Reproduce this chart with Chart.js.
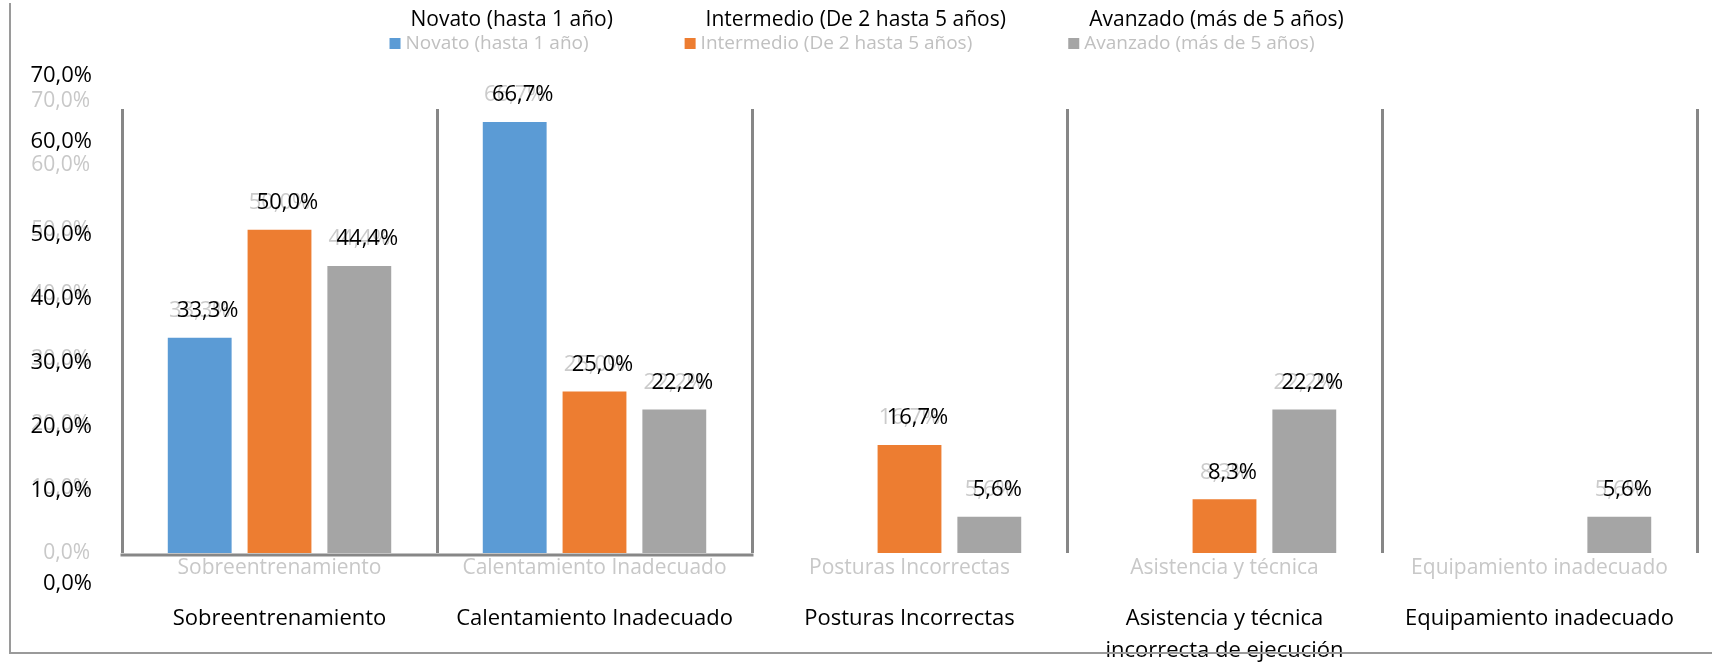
<!DOCTYPE html>
<html lang="es">
<head>
<meta charset="utf-8">
<title>Lesiones por nivel de experiencia</title>
<script src="https://cdn.jsdelivr.net/npm/chart.js@4"></script>
<style>
  html, body { margin: 0; padding: 0; background: #fff; }
  #marco { position: relative; width: 1712px; height: 665px; }
  #grafico { position: absolute; left: 0; top: 0; }
  .linea { position: absolute; background: #9a9a9a; }
</style>
</head>
<body>
<div id="marco">
  <canvas id="grafico" width="1712" height="665"></canvas>
  <div class="linea" style="left:9px; top:3px; width:2px; height:651px"></div>
  <div class="linea" style="left:9px; top:652px; width:1703px; height:2px"></div>
</div>
<script>
// datos
const categorias = [
  "Sobreentrenamiento",
  "Calentamiento Inadecuado",
  "Posturas Incorrectas",
  "Asistencia y técnica",
  "Equipamiento inadecuado",
];
const categoriasNegro = [
  "Sobreentrenamiento",
  "Calentamiento Inadecuado",
  "Posturas Incorrectas",
  ["Asistencia y técnica", "incorrecta de ejecución"],
  "Equipamiento inadecuado",
];
const nombresSeries = [
  "Novato (hasta 1 año)",
  "Intermedio (De 2 hasta 5 años)",
  "Avanzado (más de 5 años)",
];
const novato = [33.3, 66.7, null, null, null];
const intermedio = [50.0, 25.0, 16.7, 8.3, null];
const avanzado = [44.4, 22.2, 5.6, 22.2, 5.6];
const colores = ["#5b9bd5", "#ed7d31", "#a5a5a5"];

// marcas del eje (la copia gris va en su sitio, la negra algo desplazada)
const ticksEje = [0, 10, 20, 30, 40, 50, 60, 70];
const ticksNegros = [-4.8, 9.6, 19.5, 29.5, 39.4, 49.3, 63.7, 73.9];
const etiquetasNegras = ["0,0%", "10,0%", "20,0%", "30,0%", "40,0%", "50,0%", "60,0%", "70,0%"];

const fuente = "'Open Sans'";
const porcentaje = (v) => v.toFixed(1).replace(".", ",") + "%";

const etiquetasDatos = {
  id: "etiquetasDatos",
  afterDatasetsDraw(chart) {
    const { ctx, chartArea } = chart;
    ctx.save();
    ctx.textAlign = "center";
    ctx.textBaseline = "middle";
    const capas = [
      ["#cbcbcb", 0],
      ["#000", 8],
    ];
    ctx.font = "22px " + fuente;
    capas.forEach(([color, dx]) => {
      ctx.fillStyle = color;
      chart.data.datasets.forEach((ds, i) => {
        chart.getDatasetMeta(i).data.forEach((bar, j) => {
          if (ds.data[j] == null) return;
          ctx.fillText(porcentaje(ds.data[j]), bar.x + dx, bar.y - 27);
        });
      });
    });

    // linea inferior del recuadro de las dos primeras categorias
    const x = chart.scales.x;
    const corte = (x.getPixelForValue(1) + x.getPixelForValue(2)) / 2;
    ctx.strokeStyle = "#878787";
    ctx.lineWidth = 3;
    ctx.beginPath();
    ctx.moveTo(chartArea.left - 1.5, chartArea.bottom + 2);
    ctx.lineTo(corte + 1.5, chartArea.bottom + 2);
    ctx.stroke();
    ctx.restore();
  },
};

// etiquetas negras del eje y, sobre la escala real
const ejeNegro = {
  id: "ejeNegro",
  afterDraw(chart) {
    const { ctx, chartArea } = chart;
    const y = chart.scales.y;
    ctx.save();
    ctx.font = "22px " + fuente;
    ctx.fillStyle = "#000";
    ctx.textAlign = "right";
    ctx.textBaseline = "middle";
    ticksNegros.forEach((v, i) => {
      ctx.fillText(etiquetasNegras[i], chartArea.left - 30, y.getPixelForValue(v));
    });
    ctx.restore();
  },
};

const leyenda = {
  id: "leyenda",
  afterDraw(chart) {
    const { ctx } = chart;
    ctx.save();
    ctx.textAlign = "left";
    ctx.textBaseline = "middle";
    ctx.font = "19px " + fuente;
    const anchos = nombresSeries.map((n) => 16 + ctx.measureText(n).width);
    const hueco = 96;
    const total = anchos.reduce((a, b) => a + b, 0) + hueco * (anchos.length - 1);
    let x = chart.width / 2 - 4 - total / 2;
    nombresSeries.forEach((nombre, i) => {
      ctx.fillStyle = colores[i];
      ctx.fillRect(x, 38, 11, 11);
      ctx.fillStyle = "#c0c0c0";
      ctx.font = "19px " + fuente;
      ctx.fillText(nombre, x + 16, 44);
      ctx.fillStyle = "#000";
      ctx.font = "21px " + fuente;
      ctx.fillText(nombre, x + 21, 20);
      x += anchos[i] + hueco;
    });
    ctx.restore();
  },
};

const series = [novato, intermedio, avanzado];
const datasets = series.map((datos, i) => ({
  label: nombresSeries[i],
  data: datos,
  backgroundColor: colores[i],
  categoryPercentage: 0.76,
  barPercentage: 0.8,
}));

const myChart = new Chart(document.querySelector("#grafico"), {
  type: "bar",
  data: { labels: categorias, datasets },
  options: {
    responsive: false,
    animation: false,
    devicePixelRatio: 1,
    layout: { padding: { top: 109, left: 11, right: 15, bottom: 0 } },
    plugins: {
      legend: { display: false },
      tooltip: { enabled: false },
    },
    scales: {
      x: {
        weight: 0,
        grid: { color: "#878787", lineWidth: 3, drawTicks: false, offset: true },
        border: { display: false },
        afterFit: (s) => { s.height = 30; },
        ticks: { color: "#c8c8c8", font: { family: "Open Sans", size: 21 }, padding: 2, maxRotation: 0, autoSkip: false },
      },
      x2: {
        type: "category",
        labels: categoriasNegro,
        position: "bottom",
        offset: true,
        weight: 1,
        grid: { display: false },
        border: { display: false },
        afterFit: (s) => { s.height = 82; },
        ticks: { color: "#000", font: { family: "Open Sans", size: 22, lineHeight: 1.45 }, padding: 12, maxRotation: 0, autoSkip: false },
      },
      y: {
        min: 0,
        max: 68.7,
        grid: { display: false },
        border: { display: false },
        afterBuildTicks: (s) => { s.ticks = ticksEje.map((v) => ({ value: v })); },
        afterFit: (s) => { s.width = 111; },
        ticks: { color: "#c8c8c8", font: { family: "Open Sans", size: 21 }, padding: 24, callback: (v) => porcentaje(v) },
      },
    },
  },
  plugins: [etiquetasDatos, ejeNegro, leyenda],
});
</script>
</body>
</html>
